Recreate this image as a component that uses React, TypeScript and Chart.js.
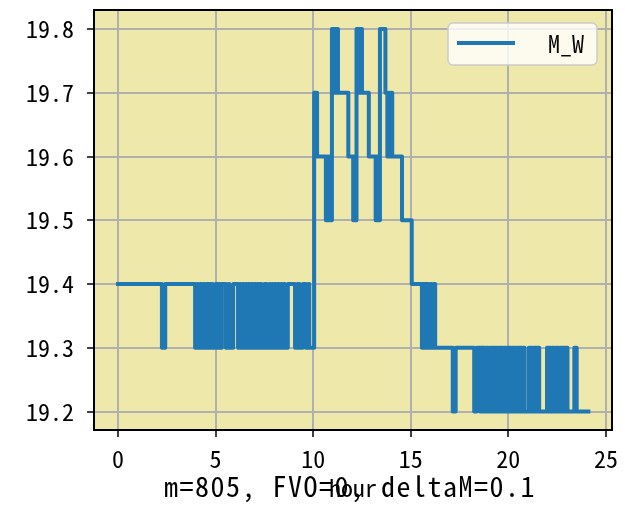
import { useEffect, useRef } from 'react';
import { Chart, registerables } from 'chart.js';

Chart.register(...registerables);

const seriesLabel = 'M_W';
const xAxisLabel = 'hour';
const noteText = 'm=805, FVO=0, deltaM=0.1';

// change points of the stepped series (hour at which the value starts)
const hours = [
  0, 2.25, 2.42, 3.95, 4.05, 4.1, 4.2, 4.3, 4.4, 4.45, 4.55,
  4.7, 4.8, 4.85, 5.0, 5.1, 5.2, 5.25, 5.32, 5.53, 5.65, 5.7, 5.9,
  6.15, 6.25, 6.3, 6.4, 6.45, 6.55, 6.6, 6.7, 6.75, 6.85, 6.9, 7.0,
  7.05, 7.15, 7.2, 7.3, 7.35, 7.5, 7.63, 7.75, 7.8, 7.9, 7.95, 8.05,
  8.1, 8.2, 8.25, 8.35, 8.4, 8.5, 8.55, 8.7, 9.07, 9.2, 9.3, 9.47,
  9.63, 9.75, 9.8,
  10.05, 10.2, 10.65, 10.72, 10.78, 10.85, 10.9, 10.96, 11.02, 11.07,
  11.14, 11.2, 11.27, 11.8, 12.05, 12.1, 12.15, 12.22, 12.3, 12.35,
  12.5, 12.85, 13.2, 13.25, 13.3, 13.42, 13.7, 13.8, 13.85, 13.92,
  13.98, 14.05, 14.55, 15.05, 15.57, 15.65, 15.72, 15.8, 15.9, 16.0,
  16.08, 16.15, 16.25,
  17.15, 17.3, 18.25, 18.38, 18.55, 18.6, 18.68, 18.72, 18.8, 18.86,
  18.92, 19.0, 19.05, 19.12, 19.2, 19.25, 19.33, 19.4, 19.46, 19.52,
  19.6, 19.66, 19.73, 19.8, 19.86, 19.93, 20.0, 20.06, 20.14, 20.2,
  20.27, 20.33, 20.4, 20.47, 20.55, 20.6, 20.68, 20.75, 20.83,
  21.05, 21.12, 21.18, 21.25, 21.32, 21.4, 21.45, 21.58,
  21.98, 22.05, 22.1, 22.18, 22.25, 22.32, 22.4, 22.47, 22.53, 22.6,
  22.67, 22.75, 22.82, 22.9, 22.95, 23.03, 23.38, 23.5, 24.1,
];

const mwValues = [
  19.4, 19.3, 19.4, 19.3, 19.4, 19.3, 19.4, 19.3, 19.4, 19.3, 19.4,
  19.3, 19.4, 19.3, 19.4, 19.3, 19.4, 19.3, 19.4, 19.3, 19.4, 19.3, 19.4,
  19.3, 19.4, 19.3, 19.4, 19.3, 19.4, 19.3, 19.4, 19.3, 19.4, 19.3, 19.4,
  19.3, 19.4, 19.3, 19.4, 19.3, 19.4, 19.3, 19.4, 19.3, 19.4, 19.3, 19.4,
  19.3, 19.4, 19.3, 19.4, 19.3, 19.4, 19.3, 19.4, 19.3, 19.4, 19.3, 19.4,
  19.3, 19.4, 19.3,
  19.7, 19.6, 19.5, 19.6, 19.5, 19.6, 19.5, 19.8, 19.7, 19.8,
  19.7, 19.8, 19.7, 19.6, 19.5, 19.6, 19.5, 19.8, 19.7, 19.8,
  19.7, 19.6, 19.5, 19.6, 19.5, 19.8, 19.7, 19.6, 19.7, 19.6,
  19.7, 19.6, 19.5, 19.4, 19.3, 19.4, 19.3, 19.4, 19.3, 19.4,
  19.3, 19.4, 19.3,
  19.2, 19.3, 19.2, 19.3, 19.2, 19.3, 19.2, 19.3, 19.2, 19.3,
  19.2, 19.3, 19.2, 19.3, 19.2, 19.3, 19.2, 19.3, 19.2, 19.3,
  19.2, 19.3, 19.2, 19.3, 19.2, 19.3, 19.2, 19.3, 19.2, 19.3,
  19.2, 19.3, 19.2, 19.3, 19.2, 19.3, 19.2, 19.3, 19.2,
  19.3, 19.2, 19.3, 19.2, 19.3, 19.2, 19.3, 19.2,
  19.3, 19.2, 19.3, 19.2, 19.3, 19.2, 19.3, 19.2, 19.3, 19.2,
  19.3, 19.2, 19.3, 19.2, 19.3, 19.2, 19.3, 19.2, 19.2,
];

const xTicks = [0, 5, 10, 15, 20, 25];
const yTicks = [19.2, 19.3, 19.4, 19.5, 19.6, 19.7, 19.8];

const MONO = "'Noto Sans Mono CJK JP', 'DejaVu Sans Mono', monospace";
const LINE_COLOR = '#1f77b4';

const decorPlugin = {
  id: 'decor',
  beforeDraw(chart: any) {
    const { ctx, chartArea: a } = chart;
    ctx.save();
    ctx.fillStyle = '#eee8aa';
    ctx.fillRect(a.left, a.top, a.right - a.left, a.bottom - a.top);
    ctx.restore();
  },
  afterDraw(chart: any) {
    const { ctx, chartArea: a } = chart;
    ctx.save();
    // frame
    ctx.strokeStyle = '#000';
    ctx.lineWidth = 2;
    ctx.strokeRect(a.left, a.top, a.right - a.left, a.bottom - a.top);

    // legend
    const bw = 149;
    const bh = 42;
    const bx = a.right - 15 - bw;
    const by = a.top + 13;
    ctx.beginPath();
    ctx.roundRect(bx, by, bw, bh, 5);
    ctx.fillStyle = 'rgba(255,255,255,0.8)';
    ctx.fill();
    ctx.strokeStyle = '#cccccc';
    ctx.lineWidth = 1.5;
    ctx.stroke();
    ctx.beginPath();
    ctx.moveTo(bx + 9, by + 20);
    ctx.lineTo(bx + 67, by + 20);
    ctx.strokeStyle = LINE_COLOR;
    ctx.lineWidth = 4;
    ctx.stroke();
    ctx.fillStyle = '#000';
    ctx.font = `24px ${MONO}`;
    ctx.textAlign = 'left';
    ctx.textBaseline = 'middle';
    ctx.fillText(chart.data.datasets[0].label, bx + 100, by + 21);

    // bottom texts
    const cx = (a.left + a.right) / 2;
    ctx.textBaseline = 'alphabetic';
    ctx.textAlign = 'center';
    ctx.font = `28px ${MONO}`;
    (ctx as any).letterSpacing = '1.5px';
    ctx.fillText(noteText, cx - 3, 497);
    (ctx as any).letterSpacing = '0px';
    ctx.font = `24px ${MONO}`;
    ctx.fillText(xAxisLabel, cx, 497);
    ctx.restore();
  },
};

export default function App() {
  const ref = useRef<HTMLCanvasElement | null>(null);

  useEffect(() => {
    if (!ref.current) return;
    const points = hours.map((h, i) => ({ x: h, y: mwValues[i] }));
    const chart = new Chart(ref.current, {
      type: 'line',
      data: {
        datasets: [
          {
            label: seriesLabel,
            data: points,
            borderColor: LINE_COLOR,
            backgroundColor: LINE_COLOR,
            borderWidth: 4,
            pointRadius: 0,
            stepped: true,
            fill: false,
            borderJoinStyle: 'round',
            borderCapStyle: 'square',
          },
        ],
      },
      options: {
        responsive: false,
        animation: false,
        layout: { padding: { top: 10, right: 13, left: 0, bottom: 0 } },
        plugins: { legend: { display: false }, tooltip: { enabled: false } },
        scales: {
          x: {
            type: 'linear',
            min: -1.23,
            max: 25.31,
            afterBuildTicks: (s: any) => {
              s.ticks = xTicks.map((v) => ({ value: v }));
            },
            afterFit: (s: any) => {
              s.height = 82;
              s.paddingLeft = 0;
              s.paddingRight = 0;
            },
            grid: {
              color: '#b0b0b0',
              lineWidth: 2,
              tickLength: 7,
              tickColor: '#000',
              tickWidth: 1.5,
            },
            border: { display: false },
            ticks: {
              font: { family: MONO, size: 24 },
              color: '#000',
              padding: 7,
              maxRotation: 0,
              autoSkip: false,
              callback: (v: any) => String(v),
            },
          },
          y: {
            type: 'linear',
            min: 19.171,
            max: 19.83,
            afterBuildTicks: (s: any) => {
              s.ticks = yTicks.map((v) => ({ value: v }));
            },
            afterFit: (s: any) => {
              s.width = 94;
              s.paddingTop = 0;
              s.paddingBottom = 0;
            },
            grid: {
              color: '#b0b0b0',
              lineWidth: 2,
              tickLength: 7,
              tickColor: '#000',
              tickWidth: 1.5,
            },
            border: { display: false },
            ticks: {
              font: { family: MONO, size: 24 },
              color: '#000',
              padding: 13,
              autoSkip: false,
              callback: (v: any) => Number(v).toFixed(1),
            },
          },
        },
      },
      plugins: [decorPlugin],
    });
    return () => chart.destroy();
  }, []);

  return (
    <div style={{ position: 'absolute', left: 0, top: 0, width: 625, height: 512, background: '#fff' }}>
      <canvas ref={ref} width={625} height={512} style={{ display: 'block' }} />
    </div>
  );
}
